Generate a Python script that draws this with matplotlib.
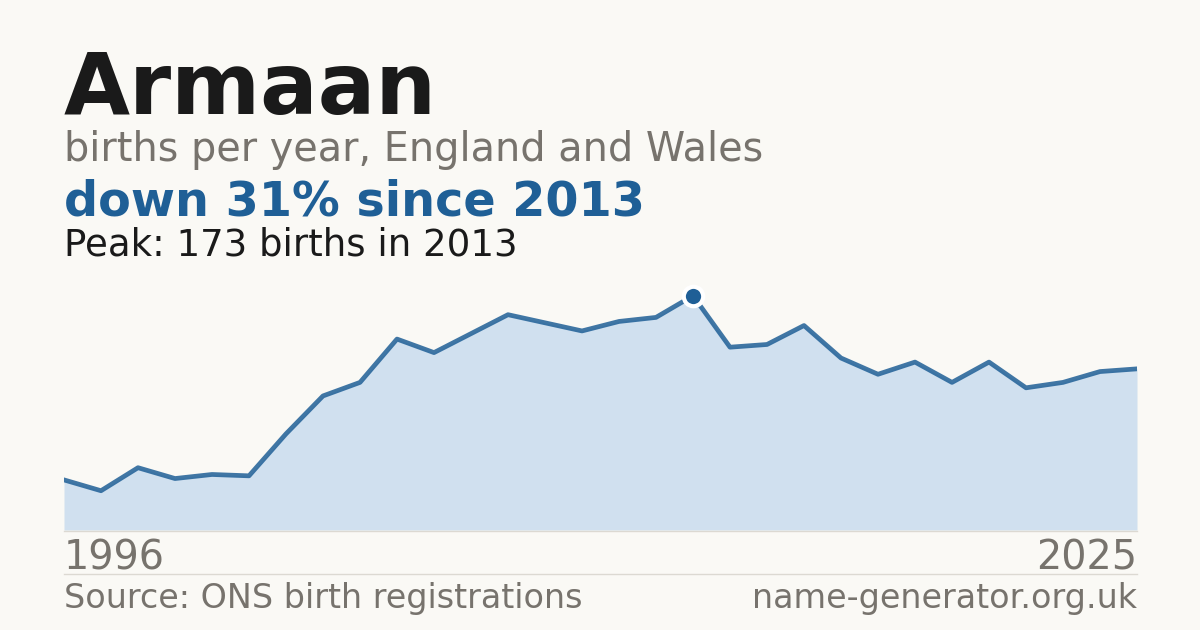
import matplotlib
matplotlib.use("Agg")
import matplotlib.pyplot as plt
from matplotlib.lines import Line2D

# ---- data ----
years = list(range(1996, 2026))
births = [37, 29, 46, 38, 41, 40, 71, 99, 109, 141, 131, 145, 159, 153, 147, 154,
          157, 173, 135, 137, 151, 127, 115, 124, 109, 124, 105, 109, 117, 119]
name = "Armaan"
subtitle = "births per year, England and Wales"
headline = "down 31% since 2013"
peak_note = "Peak: 173 births in 2013"
source = "Source: ONS birth registrations"
site = "name-generator.org.uk"

BG = "#faf9f5"
BLUE = "#1f5f96"
FILL = "#d0e0ef"
GREY = "#77736d"
W, H = 1200, 630

plt.rcParams["font.family"] = ["DejaVu Sans"]
fig = plt.figure(figsize=(12, 6.3), dpi=100, facecolor=BG)

def fy(px):
    return 1 - px / H

# chart area: x 64..1137, y 270..530 px
left, right, top, bottom = 64, 1137, 270, 530
ax = fig.add_axes([left / W, fy(bottom), (right - left) / W, (bottom - top) / H])
ax.set_facecolor(BG)
ax.fill_between(years, births, 0, color=FILL, lw=0)
ax.plot(years, births, color=BLUE, lw=3.4, alpha=0.85)
pk = births.index(max(births))
ax.plot(years[pk], births[pk], marker="o", ms=14, color=BLUE, mec="white", mew=3,
        clip_on=False, zorder=5)
ax.set_xlim(years[0], years[-1])
ax.set_ylim(0, 192)
ax.axis("off")

# baseline and separator rules
fig.add_artist(Line2D([left / W, right / W], [fy(530.5), fy(530.5)], color="#dcd9d2", lw=1))
fig.add_artist(Line2D([left / W, right / W], [fy(574), fy(574)], color="#dcd9d2", lw=1))

x0 = left / W
fig.text(x0, fy(114), name, fontsize=61.5, fontweight="bold", color="#1a1a1a", va="baseline")
fig.text(x0, fy(161), subtitle, fontsize=28.6, color=GREY, va="baseline")
fig.text(x0, fy(215), headline, fontsize=34.4, fontweight="bold", color=BLUE, va="baseline")
fig.text(x0, fy(255), peak_note, fontsize=26.7, color="#1a1a1a", va="baseline")
fig.text(x0, fy(569), str(years[0]), fontsize=28.6, color=GREY, va="baseline")
fig.text(right / W, fy(569), str(years[-1]), fontsize=28.6, color=GREY, va="baseline", ha="right")
fig.text(x0, fy(608), source, fontsize=24, color=GREY, va="baseline")
fig.text(right / W, fy(608), site, fontsize=24, color=GREY, va="baseline", ha="right")

fig.savefig("out.png", dpi=100, facecolor=BG)
